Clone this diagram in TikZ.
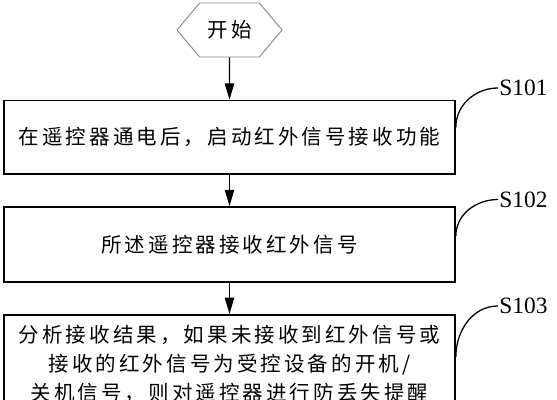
\documentclass[tikz,border=0pt]{standalone}
\usepackage{fontspec}
\setmainfont{Liberation Serif}
\newfontfamily\cjk{Noto Sans CJK SC}[LetterSpace=15]
\usepackage{tikz}
\usepackage{xcolor}
\usetikzlibrary{arrows.meta, positioning, shapes.symbols}
\definecolor{hexgray}{HTML}{8A8A8A}

\begin{document}
\begin{tikzpicture}[x=0.03cm, y=-0.03cm,
    txt/.style={font=\cjk\fontsize{17.5pt}{25pt}\selectfont},
    startnd/.style={signal, signal to=east and west, signal pointer angle=100, draw=hexgray, line width=0.8pt, minimum width=3.15cm, minimum height=1.62cm, inner sep=0pt, txt},
    stepbox/.style={rectangle, draw=black, line width=1.4pt, minimum width=13.53cm, inner sep=0pt, align=center, txt},
    arr/.style={-{Triangle[length=14pt, width=8pt]}, line width=1.2pt},
    callout/.style={line width=1.1pt},
    lbl/.style={anchor=west, inner sep=1pt, font=\fontsize{20pt}{22pt}\selectfont}]
    \clip (0,0) rectangle (557,400);
    \node[startnd] (start) at (229.5,30) {开始};
    \node[stepbox, minimum height=2.2cm] (b1) at (229.5,137.25) {在遥控器通电后，启动红外信号接收功能};
    \node[stepbox, minimum height=2.25cm] (b2) at (229.5,244.5) {所述遥控器接收红外信号};
    \node[stepbox, minimum height=2.94cm, anchor=north] (b3) at (229.5,314) {分析接收结果，如果未接收到红外信号或\\接收的红外信号为受控设备的开机/\\关机信号，则对遥控器进行防丢失提醒};
    \node[lbl] (s101) at (498,88) {S101};
    \node[lbl] (s102) at (498,199.5) {S102};
    \node[lbl] (s103) at (498,306) {S103};
    \draw[arr] (start) -- (b1);
    \draw[arr] (b1) -- (b2);
    \draw[arr] (b2) -- (b3);
    \draw[callout] ([yshift=-0.83cm]b1.north east) to[out=90, in=180] (s101.west);
    \draw[callout] ([yshift=-0.9cm]b2.north east) to[out=90, in=180] (s102.west);
    \draw[callout] ([yshift=-1.29cm]b3.north east) to[out=90, in=180] (s103.west);
\end{tikzpicture}
\end{document}
